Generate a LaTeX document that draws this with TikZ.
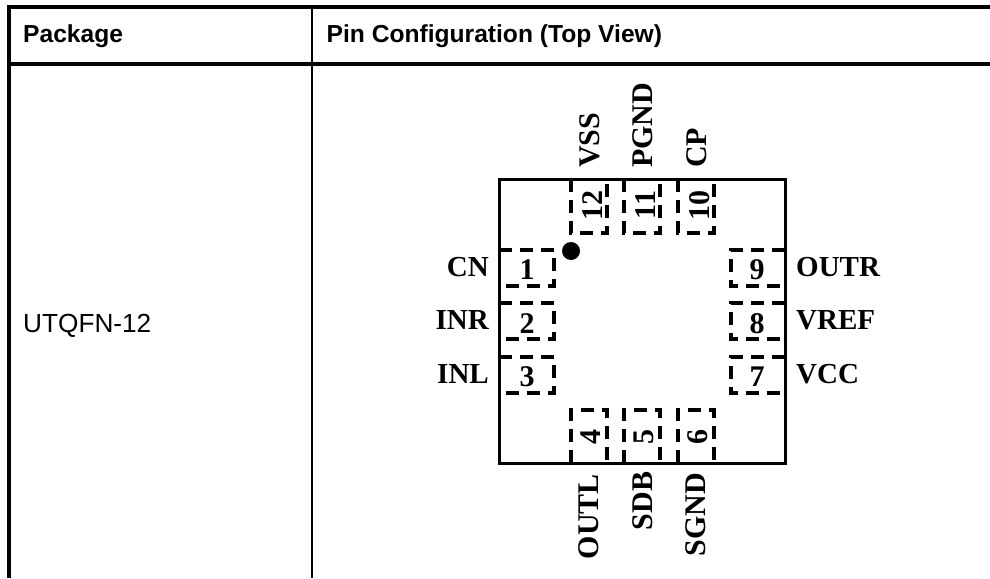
\documentclass[tikz,border=0pt]{standalone}
\usepackage{fontspec}
\setmainfont{Liberation Serif}
\newfontfamily\arialf{Liberation Sans}
\tikzset{
  x=1pt,y=-1pt,
  rule/.style={draw=black,line width=4pt},
  thinrule/.style={draw=black,line width=2.2pt},
  pkgbox/.style={draw=black,line width=3pt,line join=miter},
  pinpad/.style={draw=black,line width=3.2pt,dash pattern=on 13pt off 8pt},
  headtxt/.style={font=\arialf\fontsize{24.6}{28}\selectfont\bfseries,anchor=base west,inner sep=0pt},
  celltxt/.style={font=\arialf\fontsize{26.2}{30}\selectfont,anchor=base west,inner sep=0pt},
  pinlab/.style={font=\fontsize{29}{32}\selectfont\bfseries,inner sep=0pt},
  vlab/.style={font=\fontsize{30}{32}\selectfont\bfseries,inner sep=0pt,rotate=90,anchor=base west},
  pinnum/.style={font=\fontsize{30}{32}\selectfont\bfseries,inner sep=0pt},
}
\begin{document}
\begin{tikzpicture}
\useasboundingbox (0,0) rectangle (990,578);
% table
\draw[rule] (7,7) -- (990,7);
\draw[rule] (7,64) -- (990,64);
\draw[rule] (9,5) -- (9,578);
\draw[thinrule] (311.8,7) -- (311.8,578);
\node[headtxt] (hpkg) at (23,43) {Package};
\node[headtxt] (hpin) at (326.5,43) {Pin Configuration (Top View)};
\node[celltxt] (cell) at (23,332) {UTQFN-12};
% pads
\foreach \x in {571,624,678}{
  \draw[pinpad] (\x,179) -- (\x,233) -- (\x+36,233) -- (\x+36,179);
  \draw[pinpad] (\x,463) -- (\x,410) -- (\x+36,410) -- (\x+36,463);
}
\foreach \y in {250,303,357}{
  \draw[pinpad] (499,\y) -- (554,\y) -- (554,\y+36) -- (499,\y+36);
  \draw[pinpad] (785,\y) -- (731,\y) -- (731,\y+36) -- (785,\y+36);
}
% package
\draw[pkgbox] (499.5,179) rectangle (785,463.5);
\fill[black] (571,251) circle (9);
% left side
\node[pinlab,anchor=base east] (lcn) at (489,276.5) {CN};
\node[pinlab,anchor=base east] (linr) at (489,329.5) {INR};
\node[pinlab,anchor=base east] (linl) at (489,383.5) {INL};
\node[pinnum,anchor=base] (n1) at (527,279.5) {1};
\node[pinnum,anchor=base] (n2) at (527,333) {2};
\node[pinnum,anchor=base] (n3) at (527,386.5) {3};
% right side
\node[pinlab,anchor=base west] (loutr) at (796,276.5) {OUTR};
\node[pinlab,anchor=base west] (lvref) at (796,329.5) {VREF};
\node[pinlab,anchor=base west] (lvcc) at (796,383.5) {VCC};
\node[pinnum,anchor=base] (n9) at (757,279.5) {9};
\node[pinnum,anchor=base] (n8) at (757,333) {8};
\node[pinnum,anchor=base] (n7) at (757,386.5) {7};
% top side
\node[vlab] (lvss) at (599,168) {VSS};
\node[vlab] (lpgnd) at (652,168) {PGND};
\node[vlab] (lcp) at (706,168) {CP};
\node[pinnum,rotate=90,anchor=base] (n12) at (602,205) {12};
\node[pinnum,rotate=90,anchor=base] (n11) at (655,205) {11};
\node[pinnum,rotate=90,anchor=base] (n10) at (709,205) {10};
% bottom side
\node[vlab] (loutl) at (598,559.5) {OUTL};
\node[vlab] (lsdb) at (652,530.5) {SDB};
\node[vlab] (lsgnd) at (705,556.5) {SGND};
\node[pinnum,rotate=90,anchor=base] (n4) at (600,437) {4};
\node[pinnum,rotate=90,anchor=base] (n5) at (653,437) {5};
\node[pinnum,rotate=90,anchor=base] (n6) at (707,437) {6};
\end{tikzpicture}
\end{document}
